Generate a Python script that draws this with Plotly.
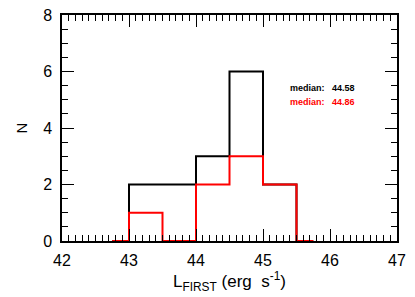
import plotly.graph_objects as go

bin_edges = [42.75, 43.0, 43.5, 44.0, 44.5, 45.0, 45.5, 45.75]
counts_black = [0, 2, 2, 3, 6, 2, 0]
counts_red = [0, 1, 0, 2, 3, 2, 0]
median_black = "44.58"
median_red = "44.86"
x_ticks = [42, 43, 44, 45, 46, 47]
y_ticks = [0, 2, 4, 6, 8]

FONT = "Liberation Sans, Arial"

fig = go.Figure()
for counts, color in [(counts_black, "black"), (counts_red, "red")]:
    fig.add_trace(go.Scatter(
        x=bin_edges, y=counts + [counts[-1]],
        mode="lines", line=dict(shape="hv", color=color, width=2),
        cliponaxis=False, showlegend=False, hoverinfo="skip"))

axis_common = dict(showgrid=False, zeroline=False, showline=True, linecolor="black",
                   linewidth=1.5, ticks="inside", mirror="allticks", tickcolor="black",
                   tickwidth=1, automargin=False, ticklabeloverflow="allow",
                   tickfont=dict(family=FONT, size=16, color="black"))
fig.update_xaxes(range=[42, 47], tickvals=x_ticks, ticklen=12, ticklabelstandoff=4,
                 minor=dict(dtick=0.1, ticks="inside", ticklen=6, tickcolor="black", tickwidth=1),
                 title=dict(text="L<sub>FIRST</sub>&nbsp;(erg&nbsp; s<sup>-1</sup>)", standoff=2,
                            font=dict(family=FONT, size=17, color="black")),
                 **axis_common)
fig.update_yaxes(range=[0, 8], tickvals=y_ticks, ticklen=12, ticklabelstandoff=5,
                 minor=dict(dtick=0.5, ticks="inside", ticklen=6, tickcolor="black", tickwidth=1),
                 title=dict(text="N", standoff=12,
                            font=dict(family=FONT, size=15, color="black")),
                 **axis_common)

ann_font = lambda c: dict(family=FONT, size=9, color=c)
fig.add_annotation(x=0.674, y=0.677, xref="paper", yref="paper", xanchor="left", yanchor="middle",
                   text="<b>median:</b>", showarrow=False, font=ann_font("black"))
fig.add_annotation(x=0.800, y=0.677, xref="paper", yref="paper", xanchor="left", yanchor="middle",
                   text="<b>%s</b>" % median_black, showarrow=False, font=ann_font("black"))
fig.add_annotation(x=0.674, y=0.615, xref="paper", yref="paper", xanchor="left", yanchor="middle",
                   text="<b>median:</b>", showarrow=False, font=ann_font("red"))
fig.add_annotation(x=0.800, y=0.615, xref="paper", yref="paper", xanchor="left", yanchor="middle",
                   text="<b>%s</b>" % median_red, showarrow=False, font=ann_font("red"))

fig.update_layout(width=415, height=297, margin=dict(l=62, r=18, t=15, b=56),
                  plot_bgcolor="white", paper_bgcolor="white")
# remove the browser's default 8px body margin so the chart fills the window
fig.write_html("out.html", config={"displayModeBar": False},
               post_script="document.body.style.margin='0px';")
